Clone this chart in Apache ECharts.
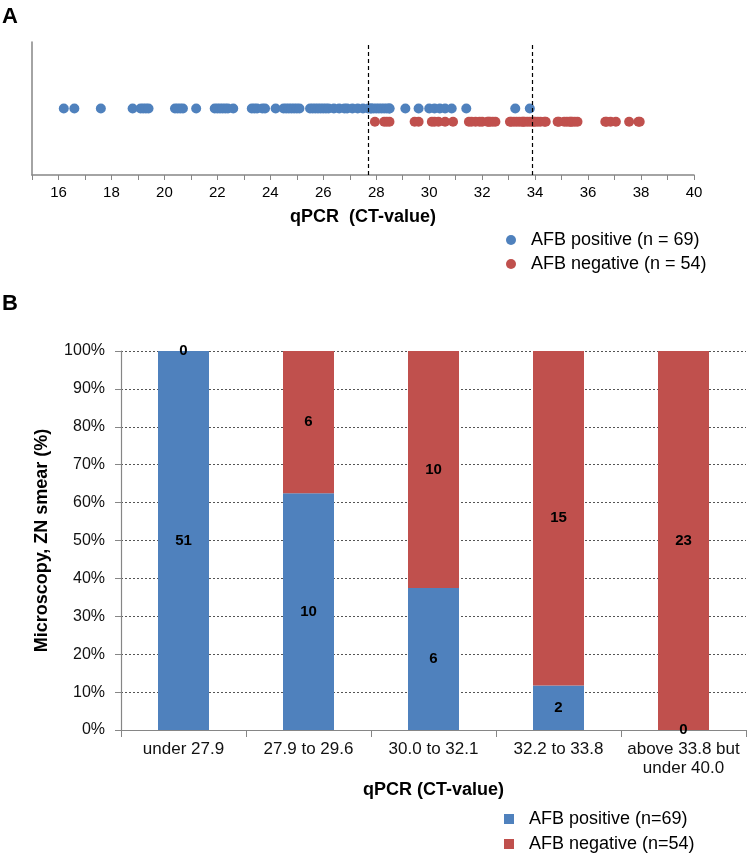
<!DOCTYPE html>
<html>
<head>
<meta charset="utf-8">
<script src="https://cdn.jsdelivr.net/npm/echarts@6/dist/echarts.min.js"></script>
<style>
html,body{margin:0;padding:0;background:#fff;}
#chart{width:748px;height:861px;}
</style>
</head>
<body>
<div id="chart"></div>
<script>
// ---- Panel A data: individual CT values ----
var afbPositiveCT = [16.2, 16.6, 17.6, 18.8, 19.1, 19.2, 19.3, 19.4, 20.4, 20.5, 20.6, 20.7, 21.2,
  21.9, 22.0, 22.1, 22.2, 22.3, 22.4, 22.6, 23.3, 23.4, 23.5, 23.7, 23.8, 24.2,
  24.5, 24.6, 24.7, 24.8, 24.9, 25.0, 25.1, 25.5, 25.6, 25.7, 25.8, 25.9, 26.0, 26.1, 26.2,
  26.4, 26.6, 26.8, 26.9, 27.1, 27.3, 27.5, 27.7, 27.8, 27.8,
  27.9, 28.0, 28.1, 28.2, 28.3, 28.4, 28.5, 28.5, 29.1, 29.6,
  30.0, 30.2, 30.4, 30.6, 30.85, 31.4,
  33.25, 33.8];
var afbNegativeCT = [27.95, 28.3, 28.4, 28.5, 29.45, 29.6,
  30.1, 30.2, 30.35, 30.6, 30.9, 31.5, 31.6, 31.75, 31.9, 32.0,
  32.2, 32.25, 32.3, 32.4, 32.5, 33.05, 33.1, 33.2, 33.3, 33.4, 33.5, 33.55, 33.6, 33.7, 33.8,
  33.9, 33.95, 34.0, 34.1, 34.2, 34.35, 34.4, 34.85, 34.9, 35.1, 35.2, 35.3, 35.35, 35.4, 35.5, 35.6,
  36.65, 36.7, 36.85, 37.05, 37.55, 37.9, 37.95];
var cutoffs = [27.7, 33.9];
var rowPositive = 0.5, rowNegative = 0.4;

// ---- Panel B data ----
var categories = ['under 27.9', '27.9 to 29.6', '30.0 to 32.1', '32.2 to 33.8', 'above 33.8 but\nunder 40.0'];
var positiveCounts = [51, 10, 6, 2, 0];
var negativeCounts = [0, 6, 10, 15, 23];
var yTickLabels = ['0%','10%','20%','30%','40%','50%','60%','70%','80%','90%','100%'];

var BLUE = '#4F81BD', RED = '#C0504D';
var FONT = '"Liberation Sans", Arial, sans-serif';

function pct(i, arr) { var t = positiveCounts[i] + negativeCounts[i]; return arr[i] / t * 100; }
var posPct = positiveCounts.map(function(v, i){ return {value: pct(i, positiveCounts), count: v}; });
var negPct = negativeCounts.map(function(v, i){ return {value: pct(i, negativeCounts), count: v}; });

var chart = echarts.init(document.getElementById('chart'), null, {renderer: 'canvas'});
var option = {
  animation: false,
  backgroundColor: '#fff',
  textStyle: {fontFamily: FONT},
  graphic: [
    {type: 'text', left: 2, top: 6, style: {text: 'A', font: 'bold 22px ' + FONT, fill: '#000'}},
    {type: 'text', left: 2, top: 293, style: {text: 'B', font: 'bold 22px ' + FONT, fill: '#000'}}
  ],
  legend: [
    {
      data: ['AFB positive (n = 69)', 'AFB negative (n = 54)'],
      orient: 'vertical', left: 501, top: 226, itemGap: 6,
      icon: 'circle', itemWidth: 10, itemHeight: 10,
      textStyle: {fontSize: 18, color: '#000', fontFamily: FONT, padding: [0, 0, 0, 10]}
    },
    {
      data: ['AFB positive (n=69)', 'AFB negative (n=54)'],
      orient: 'vertical', left: 499, top: 805, itemGap: 7,
      icon: 'rect', itemWidth: 10, itemHeight: 10,
      textStyle: {fontSize: 18, color: '#000', fontFamily: FONT, padding: [0, 0, 0, 10]}
    }
  ],
  grid: [
    {left: 32, top: 42, width: 662, height: 133},
    {left: 121, top: 351, right: 2, bottom: 131}
  ],
  xAxis: [
    {
      gridIndex: 0, type: 'value', min: 15, max: 40, interval: 1,
      axisLine: {show: true, lineStyle: {color: '#868686', width: 1.5}},
      axisTick: {show: true, length: 5, lineStyle: {color: '#868686'}},
      splitLine: {show: false},
      axisLabel: {
        margin: 10, fontSize: 15, color: '#000', fontFamily: FONT,
        formatter: function(v){ return (v % 2 === 0 && v > 15) ? String(v) : ''; }
      },
      name: 'qPCR  (CT-value)', nameLocation: 'middle', nameGap: 33,
      nameTextStyle: {fontSize: 18, fontWeight: 'bold', color: '#000', fontFamily: FONT}
    },
    {
      gridIndex: 1, type: 'category', data: categories,
      axisLine: {show: true, lineStyle: {color: '#868686', width: 1.2}},
      axisTick: {show: true, length: 7, alignWithLabel: false, lineStyle: {color: '#868686'}},
      axisLabel: {margin: 10, fontSize: 17, color: '#111', lineHeight: 19, interval: 0, fontFamily: FONT},
      name: 'qPCR (CT-value)', nameLocation: 'middle', nameGap: 51,
      nameTextStyle: {fontSize: 18, fontWeight: 'bold', color: '#000', fontFamily: FONT}
    }
  ],
  yAxis: [
    {
      gridIndex: 0, type: 'value', min: 0, max: 1,
      axisLine: {show: true, lineStyle: {color: '#868686', width: 1.5}},
      axisTick: {show: false}, axisLabel: {show: false}, splitLine: {show: false}
    },
    {
      gridIndex: 1, type: 'value', min: 0, max: 100, interval: 10,
      axisLine: {show: true, lineStyle: {color: '#868686', width: 1.2}},
      axisTick: {show: true, length: 6, lineStyle: {color: '#868686'}},
      axisLabel: {margin: 16, fontSize: 16, color: '#111', fontFamily: FONT,
        formatter: function(v){ return yTickLabels[Math.round(v / 10)]; }},
      splitLine: {show: true, lineStyle: {color: '#555', type: [2, 2], width: 1}},
      name: 'Microscopy, ZN smear (%)', nameLocation: 'middle', nameRotate: 90, nameGap: 70,
      nameTextStyle: {fontSize: 18, fontWeight: 'bold', color: '#000', fontFamily: FONT}
    }
  ],
  series: [
    {
      name: 'AFB positive (n = 69)', type: 'scatter', xAxisIndex: 0, yAxisIndex: 0,
      symbolSize: 10, itemStyle: {color: BLUE, opacity: 1},
      data: afbPositiveCT.map(function(v){ return [v, rowPositive]; }),
      markLine: {
        silent: true, symbol: 'none', label: {show: false},
        lineStyle: {color: '#000', type: [4, 3], width: 1.2},
        data: cutoffs.map(function(c){ return {xAxis: c}; })
      }
    },
    {
      name: 'AFB negative (n = 54)', type: 'scatter', xAxisIndex: 0, yAxisIndex: 0,
      symbolSize: 10, itemStyle: {color: RED, opacity: 1},
      data: afbNegativeCT.map(function(v){ return [v, rowNegative]; })
    },
    {
      name: 'AFB positive (n=69)', type: 'bar', xAxisIndex: 1, yAxisIndex: 1, stack: 'b',
      barWidth: 51, itemStyle: {color: BLUE},
      label: {show: true, position: 'inside', fontSize: 15, fontWeight: 'bold', color: '#000',
        formatter: function(p){ return String(p.data.count); }},
      data: posPct
    },
    {
      name: 'AFB negative (n=54)', type: 'bar', xAxisIndex: 1, yAxisIndex: 1, stack: 'b',
      barWidth: 51, itemStyle: {color: RED},
      label: {show: true, position: 'inside', fontSize: 15, fontWeight: 'bold', color: '#000',
        formatter: function(p){ return String(p.data.count); }},
      data: negPct
    }
  ]
};
chart.setOption(option);
</script>
</body>
</html>
